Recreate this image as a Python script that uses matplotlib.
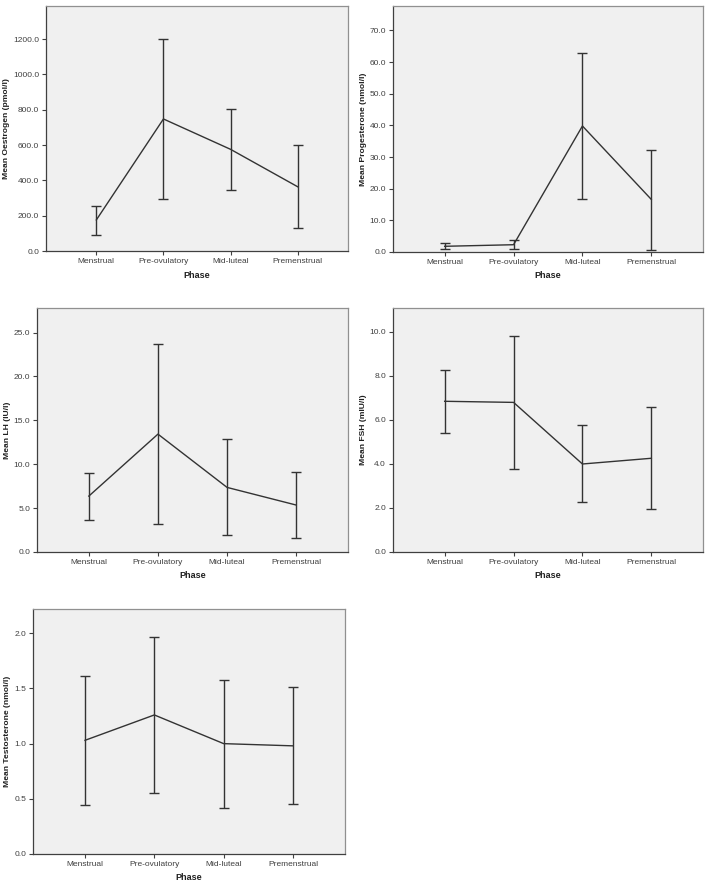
import matplotlib
matplotlib.use('Agg')
import matplotlib.pyplot as plt
from matplotlib.ticker import FormatStrFormatter

plt.rcParams['font.family'] = ['Liberation Sans', 'DejaVu Sans']

phases = ['Menstrual', 'Pre-ovulatory', 'Mid-luteal', 'Premenstrual']

oestrogen_mean = [176, 748, 576, 364]
oestrogen_low = [89, 295, 346, 129]
oestrogen_high = [257, 1201, 806, 599]

progesterone_mean = [1.8, 2.3, 39.8, 16.6]
progesterone_low = [0.95, 0.85, 16.8, 0.75]
progesterone_high = [2.85, 3.9, 63.0, 32.1]

lh_mean = [6.37, 13.43, 7.36, 5.35]
lh_low = [3.64, 3.19, 1.90, 1.56]
lh_high = [8.99, 23.75, 12.9, 9.07]

fsh_mean = [6.85, 6.80, 4.00, 4.26]
fsh_low = [5.41, 3.79, 2.26, 1.94]
fsh_high = [8.27, 9.82, 5.76, 6.58]

testo_mean = [1.03, 1.26, 1.00, 0.98]
testo_low = [0.445, 0.557, 0.42, 0.45]
testo_high = [1.613, 1.97, 1.579, 1.51]

W, H = 708, 886
fig = plt.figure(figsize=(W / 100, H / 100), dpi=100)
fig.patch.set_facecolor('white')


def panel(box, mean, low, high, ylabel, ymax, yticks, fmt):
    x0, y0, x1, y1 = box
    ax = fig.add_axes([x0 / W, 1 - y1 / H, (x1 - x0) / W, (y1 - y0) / H])
    ax.set_facecolor('#f0f0f0')
    xs = list(range(1, len(phases) + 1))
    err = [[m - l for m, l in zip(mean, low)], [h - m for m, h in zip(mean, high)]]
    ax.errorbar(xs, mean, yerr=err, color='#333333', lw=1.0, elinewidth=1.0,
                capsize=3.8, capthick=1.0)
    ax.set_xlim(0.25, 4.75)
    ax.set_ylim(0, ymax)
    ax.set_xticks(xs)
    ax.set_xticklabels(phases)
    ax.set_yticks(yticks)
    ax.yaxis.set_major_formatter(FormatStrFormatter(fmt))
    ax.tick_params(labelsize=6, colors='#404040', length=3, width=0.8, pad=2)
    ax.set_xlabel('Phase', fontsize=6.5, fontweight='bold', color='#202020', labelpad=4)
    ax.set_ylabel(ylabel, fontsize=6.1, fontweight='bold', color='#202020', labelpad=2)
    for side in ['left', 'bottom']:
        ax.spines[side].set_color('#404040')
        ax.spines[side].set_linewidth(0.9)
    for side in ['right', 'top']:
        ax.spines[side].set_color('#909090')
        ax.spines[side].set_linewidth(0.9)
    return ax


panel((46, 6, 348, 251), oestrogen_mean, oestrogen_low, oestrogen_high,
      'Mean Oestrogen (pmol/l)', 1388, [0, 200, 400, 600, 800, 1000, 1200], '%.1f')
panel((393, 6, 703, 252), progesterone_mean, progesterone_low, progesterone_high,
      'Mean Progesterone (nmol/l)', 77.7, [0, 10, 20, 30, 40, 50, 60, 70], '%.1f')
panel((37, 308, 348, 552), lh_mean, lh_low, lh_high,
      'Mean LH (IU/l)', 27.8, [0, 5, 10, 15, 20, 25], '%.1f')
panel((393, 308, 703, 552), fsh_mean, fsh_low, fsh_high,
      'Mean FSH (mIU/l)', 11.09, [0, 2, 4, 6, 8, 10], '%.1f')
panel((33, 609, 345, 854), testo_mean, testo_low, testo_high,
      'Mean Testosterone (nmol/l)', 2.22, [0, 0.5, 1.0, 1.5, 2.0], '%.1f')

fig.savefig('out.png', dpi=100)
